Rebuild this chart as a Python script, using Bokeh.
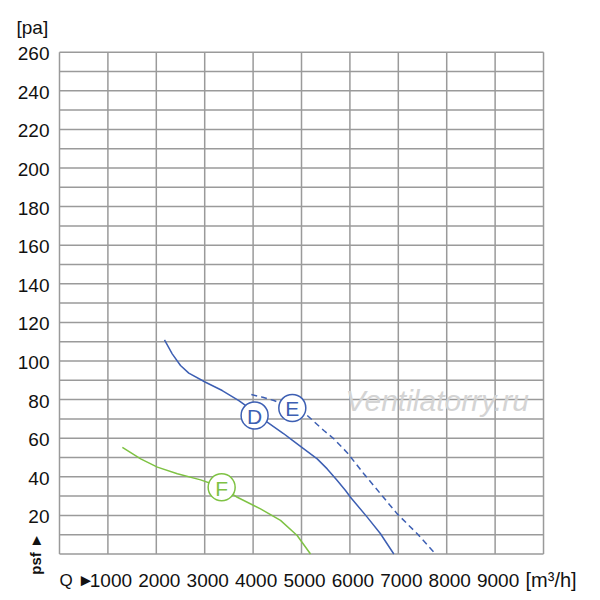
from bokeh.plotting import figure
from bokeh.models import Range1d, ColumnDataSource
from bokeh.core.properties import value
from bokeh.embed import file_html
from bokeh.resources import INLINE
import math

# ---- data ----
d_q = [2169, 2329, 2500, 2671, 3017, 3362, 3705, 3878, 4031, 4291, 4635, 4773, 5048, 5324, 5531, 5738, 5909, 6012, 6357, 6632, 6907]
d_p = [111.0, 103.7, 97.7, 93.7, 89.0, 84.7, 79.5, 76.4, 72.5, 68.3, 62.3, 59.7, 54.5, 49.3, 44.1, 38.1, 32.9, 29.4, 19.1, 10.5, 0]

e_q = [3963, 4200, 4430, 4810, 5117, 5461, 5668, 5944, 6287, 6632, 6977, 7391, 7770]
e_p = [82.6, 81.2, 79.5, 75.7, 71.8, 64.0, 59.7, 52.5, 41.6, 31.2, 20.8, 10.5, 0]

f_q = [1299, 1677, 2022, 2435, 2916, 3350, 3674, 4153, 4566, 4910, 5186]
f_p = [55.3, 49.3, 45.0, 41.6, 38.4, 34.6, 29.4, 23.4, 17.4, 9.6, 0]

marker_names = ["D", "E", "F"]
marker_q = [4031, 4810, 3350]
marker_p = [71.8, 75.7, 34.6]

x_ticks = [1000, 2000, 3000, 4000, 5000, 6000, 7000, 8000, 9000]
x_tick_labels = ["1000", "2000", "3000", "4000", "5000", "6000", "7000", "8000", "9000"]
y_ticks = [20, 40, 60, 80, 100, 120, 140, 160, 180, 200, 220, 240, 260]
y_tick_labels = ["20", "40", "60", "80", "100", "120", "140", "160", "180", "200", "220", "240", "260"]
x_grid = [0, 1000, 2000, 3000, 4000, 5000, 6000, 7000, 8000, 9000, 10000]
y_grid = list(range(0, 261, 10))
q_min, q_max = 0, 10000
p_min, p_max = 0, 260

x_unit = "[m³/h]"
y_unit = "[pa]"
x_name = "Q ►"
y_name = "psf ►"
watermark = "Ventilatorry.ru"

BLUE = "#3d5fb3"
GREEN = "#7ec243"
GRID = "#9a9a9a"
TXT = "#111111"
FONT = "Liberation Sans"

# the frame covers the whole canvas; the chart area 0..10000 x 0..260 sits inside it
p = figure(width=592, height=592, output_backend="svg", toolbar_location=None,
           x_range=Range1d(-1219, 11012), y_range=Range1d(-19.95, 286.8),
           min_border=0, min_border_left=0, min_border_right=0,
           min_border_top=0, min_border_bottom=0)
p.axis.visible = False
p.grid.visible = False
p.outline_line_color = None
p.background_fill_color = "white"
p.border_fill_color = "white"

# grid lines
p.segment(x0=x_grid, y0=[p_min] * len(x_grid), x1=x_grid, y1=[p_max] * len(x_grid),
          line_color=GRID, line_width=1.5)
p.segment(x0=[q_min] * len(y_grid), y0=y_grid, x1=[q_max] * len(y_grid), y1=y_grid,
          line_color=GRID, line_width=1.5)

# tick labels
p.text(x=[q_min] * len(y_ticks), y=y_ticks, text=y_tick_labels, text_font=value(FONT),
       text_font_size="19px", text_color=TXT, text_align="right", text_baseline="middle",
       x_offset=-10, y_offset=1.5)
p.text(x=x_ticks, y=[p_min] * len(x_ticks), text=x_tick_labels, text_font=value(FONT),
       text_font_size="19px", text_color=TXT, text_align="center", text_baseline="middle",
       x_offset=3, y_offset=27)

# axis names / units
p.text(x=[q_min], y=[p_max], text=[y_unit], text_font=value(FONT), text_font_size="19px",
       text_color=TXT, text_align="left", text_baseline="middle", x_offset=-43, y_offset=-25)
p.text(x=[q_min], y=[p_min], text=[x_name], text_font=value(FONT), text_font_size="17px",
       text_color=TXT, text_align="left", text_baseline="middle", x_offset=0, y_offset=27)
p.text(x=[q_max], y=[p_min], text=[x_unit], text_font=value(FONT), text_font_size="20px",
       text_color=TXT, text_align="left", text_baseline="middle", x_offset=-18, y_offset=26)
p.text(x=[q_min], y=[p_min], text=[y_name], text_font=value(FONT), text_font_size="15px",
       text_font_style="bold", text_color=TXT, text_align="center", text_baseline="middle",
       angle=math.pi / 2, x_offset=-24, y_offset=0)

# watermark
p.text(x=[5911], y=[79.5], text=[watermark], text_font=value(FONT),
       text_font_style="italic", text_font_size="30px", text_color="#d4d4d4",
       text_baseline="middle", text_align="left")

# curves
p.line(d_q, d_p, line_color=BLUE, line_width=1.5)
p.line(e_q, e_p, line_color=BLUE, line_width=1.5, line_dash="6 4")
p.line(f_q, f_p, line_color=GREEN, line_width=1.5)

colors = [BLUE, BLUE, GREEN]
src = ColumnDataSource(dict(x=marker_q, y=marker_p, t=marker_names, c=colors))
p.scatter(x="x", y="y", source=src, size=27, fill_color="white", line_color="c", line_width=1.5)
p.text(x="x", y="y", text="t", source=src, text_color="c", text_font=value(FONT),
       text_font_size="21px", text_align="center", text_baseline="middle", y_offset=1)

open("out.html", "w").write(file_html(p, INLINE))
